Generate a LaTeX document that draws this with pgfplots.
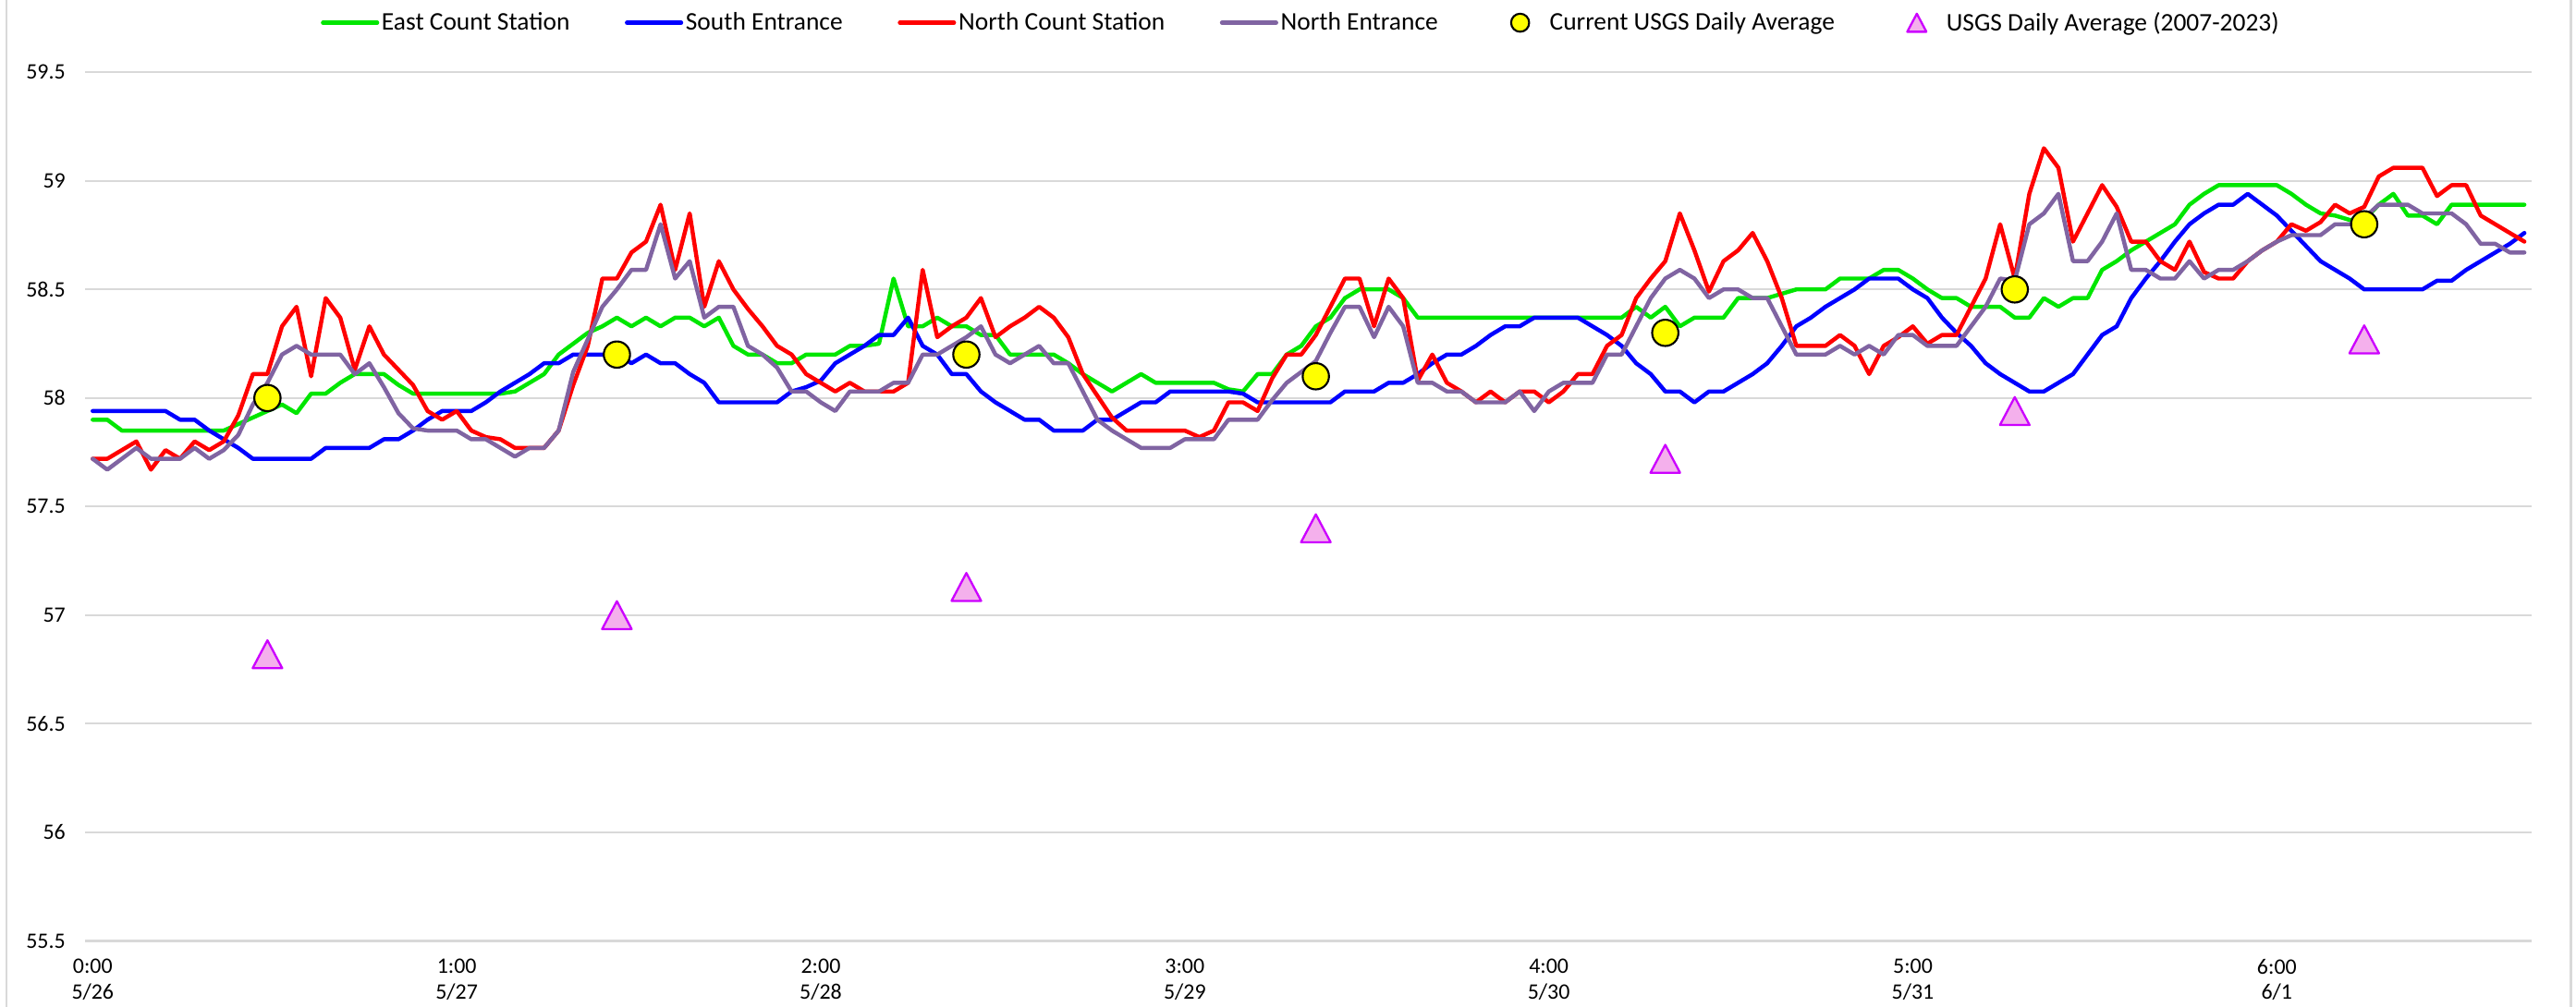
\documentclass[border=0pt]{standalone}
\usepackage{fontspec}
\setmainfont{Carlito}
\usepackage{pgfplots}
\usepackage{pgfplotstable}
\pgfplotsset{compat=1.18}
\definecolor{cE}{RGB}{0,230,0}
\definecolor{cS}{RGB}{0,0,255}
\definecolor{cN}{RGB}{255,0,0}
\definecolor{cP}{RGB}{128,100,162}
\definecolor{cY}{RGB}{255,255,0}
\definecolor{cTf}{RGB}{244,176,236}
\definecolor{cTd}{RGB}{204,0,255}
\definecolor{cG}{RGB}{217,217,217}
\pgfdeclareplotmark{xltri}{%
  \pgfpathmoveto{\pgfqpoint{0pt}{\pgfplotmarksize}}%
  \pgfpathlineto{\pgfqpoint{1.06\pgfplotmarksize}{-\pgfplotmarksize}}%
  \pgfpathlineto{\pgfqpoint{-1.06\pgfplotmarksize}{-\pgfplotmarksize}}%
  \pgfpathclose
  \pgfusepathqfillstroke}
\pgfplotsset{
  lineleg/.style={legend image code/.code={\draw[##1] (0bp,0bp) -- (33bp,0bp);}},
  markleg/.style={legend image code/.code={\path[draw=none,fill=none] (0bp,-1bp) rectangle (33bp,1bp);\draw[##1, mark size=5.5bp] plot coordinates {(16.5bp,0bp)};}},
}
\pgfplotstableread{
h E S N P
0 57.90 57.94 57.72 57.72
1 57.90 57.94 57.72 57.67
2 57.85 57.94 57.76 57.72
3 57.85 57.94 57.80 57.77
4 57.85 57.94 57.67 57.72
5 57.85 57.94 57.76 57.72
6 57.85 57.90 57.72 57.72
7 57.85 57.90 57.80 57.77
8 57.85 57.85 57.76 57.72
9 57.85 57.81 57.80 57.76
10 57.88 57.77 57.92 57.83
11 57.91 57.72 58.11 57.97
12 57.94 57.72 58.11 58.07
13 57.97 57.72 58.33 58.20
14 57.93 57.72 58.42 58.24
15 58.02 57.72 58.10 58.20
16 58.02 57.77 58.46 58.20
17 58.07 57.77 58.37 58.20
18 58.11 57.77 58.13 58.11
19 58.11 57.77 58.33 58.16
20 58.11 57.81 58.20 58.05
21 58.06 57.81 58.13 57.93
22 58.02 57.85 58.06 57.86
23 58.02 57.90 57.94 57.85
24 58.02 57.94 57.90 57.85
25 58.02 57.94 57.94 57.85
26 58.02 57.94 57.85 57.81
27 58.02 57.98 57.82 57.81
28 58.02 58.03 57.81 57.77
29 58.03 58.07 57.77 57.73
30 58.07 58.11 57.77 57.77
31 58.11 58.16 57.77 57.77
32 58.20 58.16 57.85 57.85
33 58.25 58.20 58.06 58.12
34 58.30 58.20 58.24 58.27
35 58.33 58.20 58.55 58.42
36 58.37 58.20 58.55 58.50
37 58.33 58.16 58.67 58.59
38 58.37 58.20 58.72 58.59
39 58.33 58.16 58.89 58.80
40 58.37 58.16 58.59 58.55
41 58.37 58.11 58.85 58.63
42 58.33 58.07 58.42 58.37
43 58.37 57.98 58.63 58.42
44 58.24 57.98 58.50 58.42
45 58.20 57.98 58.41 58.24
46 58.20 57.98 58.33 58.20
47 58.16 57.98 58.24 58.14
48 58.16 58.03 58.20 58.03
49 58.20 58.05 58.11 58.03
50 58.20 58.08 58.07 57.98
51 58.20 58.16 58.03 57.94
52 58.24 58.20 58.07 58.03
53 58.24 58.24 58.03 58.03
54 58.25 58.29 58.03 58.03
55 58.55 58.29 58.03 58.07
56 58.33 58.37 58.07 58.07
57 58.33 58.24 58.59 58.20
58 58.37 58.20 58.28 58.20
59 58.33 58.11 58.33 58.24
60 58.33 58.11 58.37 58.28
61 58.29 58.03 58.46 58.33
62 58.29 57.98 58.28 58.20
63 58.20 57.94 58.33 58.16
64 58.20 57.90 58.37 58.20
65 58.20 57.90 58.42 58.24
66 58.20 57.85 58.37 58.16
67 58.16 57.85 58.28 58.16
68 58.11 57.85 58.11 58.03
69 58.07 57.90 58.01 57.90
70 58.03 57.90 57.91 57.85
71 58.07 57.94 57.85 57.81
72 58.11 57.98 57.85 57.77
73 58.07 57.98 57.85 57.77
74 58.07 58.03 57.85 57.77
75 58.07 58.03 57.85 57.81
76 58.07 58.03 57.82 57.81
77 58.07 58.03 57.85 57.81
78 58.04 58.03 57.98 57.90
79 58.03 58.02 57.98 57.90
80 58.11 57.98 57.94 57.90
81 58.11 57.98 58.09 57.99
82 58.20 57.98 58.20 58.07
83 58.24 57.98 58.20 58.12
84 58.33 57.98 58.29 58.17
85 58.37 57.98 58.42 58.30
86 58.46 58.03 58.55 58.42
87 58.50 58.03 58.55 58.42
88 58.50 58.03 58.33 58.28
89 58.50 58.07 58.55 58.42
90 58.46 58.07 58.46 58.33
91 58.37 58.11 58.08 58.07
92 58.37 58.16 58.20 58.07
93 58.37 58.20 58.07 58.03
94 58.37 58.20 58.03 58.03
95 58.37 58.24 57.98 57.98
96 58.37 58.29 58.03 57.98
97 58.37 58.33 57.98 57.98
98 58.37 58.33 58.03 58.03
99 58.37 58.37 58.03 57.94
100 58.37 58.37 57.98 58.03
101 58.37 58.37 58.03 58.07
102 58.37 58.37 58.11 58.07
103 58.37 58.33 58.11 58.07
104 58.37 58.29 58.24 58.20
105 58.37 58.24 58.29 58.20
106 58.42 58.16 58.46 58.33
107 58.37 58.11 58.55 58.46
108 58.42 58.03 58.63 58.55
109 58.33 58.03 58.85 58.59
110 58.37 57.98 58.68 58.55
111 58.37 58.03 58.49 58.46
112 58.37 58.03 58.63 58.50
113 58.46 58.07 58.68 58.50
114 58.46 58.11 58.76 58.46
115 58.46 58.16 58.63 58.46
116 58.48 58.24 58.46 58.33
117 58.50 58.33 58.24 58.20
118 58.50 58.37 58.24 58.20
119 58.50 58.42 58.24 58.20
120 58.55 58.46 58.29 58.24
121 58.55 58.50 58.24 58.20
122 58.55 58.55 58.11 58.24
123 58.59 58.55 58.24 58.20
124 58.59 58.55 58.28 58.29
125 58.55 58.50 58.33 58.29
126 58.50 58.46 58.25 58.24
127 58.46 58.37 58.29 58.24
128 58.46 58.30 58.29 58.24
129 58.42 58.24 58.42 58.33
130 58.42 58.16 58.55 58.42
131 58.42 58.11 58.80 58.55
132 58.37 58.07 58.55 58.54
133 58.37 58.03 58.94 58.80
134 58.46 58.03 59.15 58.85
135 58.42 58.07 59.06 58.94
136 58.46 58.11 58.72 58.63
137 58.46 58.20 58.85 58.63
138 58.59 58.29 58.98 58.72
139 58.63 58.33 58.88 58.85
140 58.68 58.46 58.72 58.59
141 58.72 58.55 58.72 58.59
142 58.76 58.63 58.63 58.55
143 58.80 58.72 58.59 58.55
144 58.89 58.80 58.72 58.63
145 58.94 58.85 58.58 58.55
146 58.98 58.89 58.55 58.59
147 58.98 58.89 58.55 58.59
148 58.98 58.94 58.63 58.63
149 58.98 58.89 58.68 58.68
150 58.98 58.84 58.72 58.72
151 58.94 58.77 58.80 58.75
152 58.89 58.70 58.77 58.75
153 58.85 58.63 58.81 58.75
154 58.84 58.59 58.89 58.80
155 58.82 58.55 58.85 58.80
156 58.82 58.50 58.88 58.83
157 58.89 58.50 59.02 58.89
158 58.94 58.50 59.06 58.89
159 58.84 58.50 59.06 58.89
160 58.84 58.50 59.06 58.85
161 58.80 58.54 58.93 58.85
162 58.89 58.54 58.98 58.85
163 58.89 58.59 58.98 58.80
164 58.89 58.63 58.84 58.71
165 58.89 58.67 58.80 58.71
166 58.89 58.71 58.76 58.67
167 58.89 58.76 58.72 58.67
}\data
\begin{document}
\begin{tikzpicture}
\useasboundingbox (-52bp,-40bp) rectangle (1516bp,573bp);
\draw[cG, line width=1.5bp] (-48bp,-40bp) -- (-48bp,573bp);
\draw[cG, line width=1.5bp] (1513bp,-40bp) -- (1513bp,573bp);
\begin{axis}[
  at={(0,0)}, anchor=south west,
  scale only axis, width=1489bp, height=529bp,
  xmin=-0.5, xmax=167.5, ymin=55.5, ymax=59.5,
  xtick={0,25,50,75,100,125,150},
  xticklabels={{0:00\\5/26},{1:00\\5/27},{2:00\\5/28},{3:00\\5/29},{4:00\\5/30},{5:00\\5/31},{6:00\\6/1}},
  ytick={55.5,56,56.5,57,57.5,58,58.5,59,59.5},
  yticklabels={55.5,56,56.5,57,57.5,58,58.5,59,59.5},
  axis line style={draw=none},
  major tick length=0pt,
  ymajorgrids, grid style={cG, line width=1.2bp},
  xticklabel style={align=center, font=\fontsize{13.5}{15.5}\selectfont, inner sep=0pt, yshift=-11bp},
  yticklabel style={font=\fontsize{13.5}{15.5}\selectfont, inner sep=0pt, xshift=-12bp},
  legend columns=6,
  legend style={at={(axis description cs:0.497,1.057)}, anchor=center, draw=none, fill=none,
    font=\fontsize{15.5}{17}\selectfont, nodes={inner sep=1.5bp},
    /tikz/every even column/.append style={column sep=32bp}},
  legend cell align=left,
  every axis plot/.append style={line join=round, line cap=round},
]
\addplot[cE, line width=2.5bp, mark=none, lineleg] table[x=h,y=E]{\data};
\addlegendentry{East Count Station}
\addplot[cS, line width=2.5bp, mark=none, lineleg] table[x=h,y=S]{\data};
\addlegendentry{South Entrance}
\addplot[cN, line width=2.5bp, mark=none, lineleg] table[x=h,y=N]{\data};
\addlegendentry{North Count Station}
\addplot[cP, line width=2.5bp, mark=none, lineleg] table[x=h,y=P]{\data};
\addlegendentry{North Entrance}
\addplot[only marks, mark=*, mark size=8bp, mark options={fill=cY, draw=black, line width=1.2bp}, markleg] coordinates {
(12,58.0) (36,58.2) (60,58.2) (84,58.1) (108,58.3) (132,58.5) (156,58.8)};
\addlegendentry{Current USGS Daily Average}
\addplot[only marks, mark=xltri, mark size=8.5bp, mark options={fill=cTf, draw=cTd, line width=1.3bp}, markleg] coordinates {
(12,56.82) (36,57.0) (60,57.13) (84,57.4) (108,57.72) (132,57.94) (156,58.27)};
\addlegendentry{USGS Daily Average (2007-2023)}
\end{axis}
\end{tikzpicture}
\end{document}
